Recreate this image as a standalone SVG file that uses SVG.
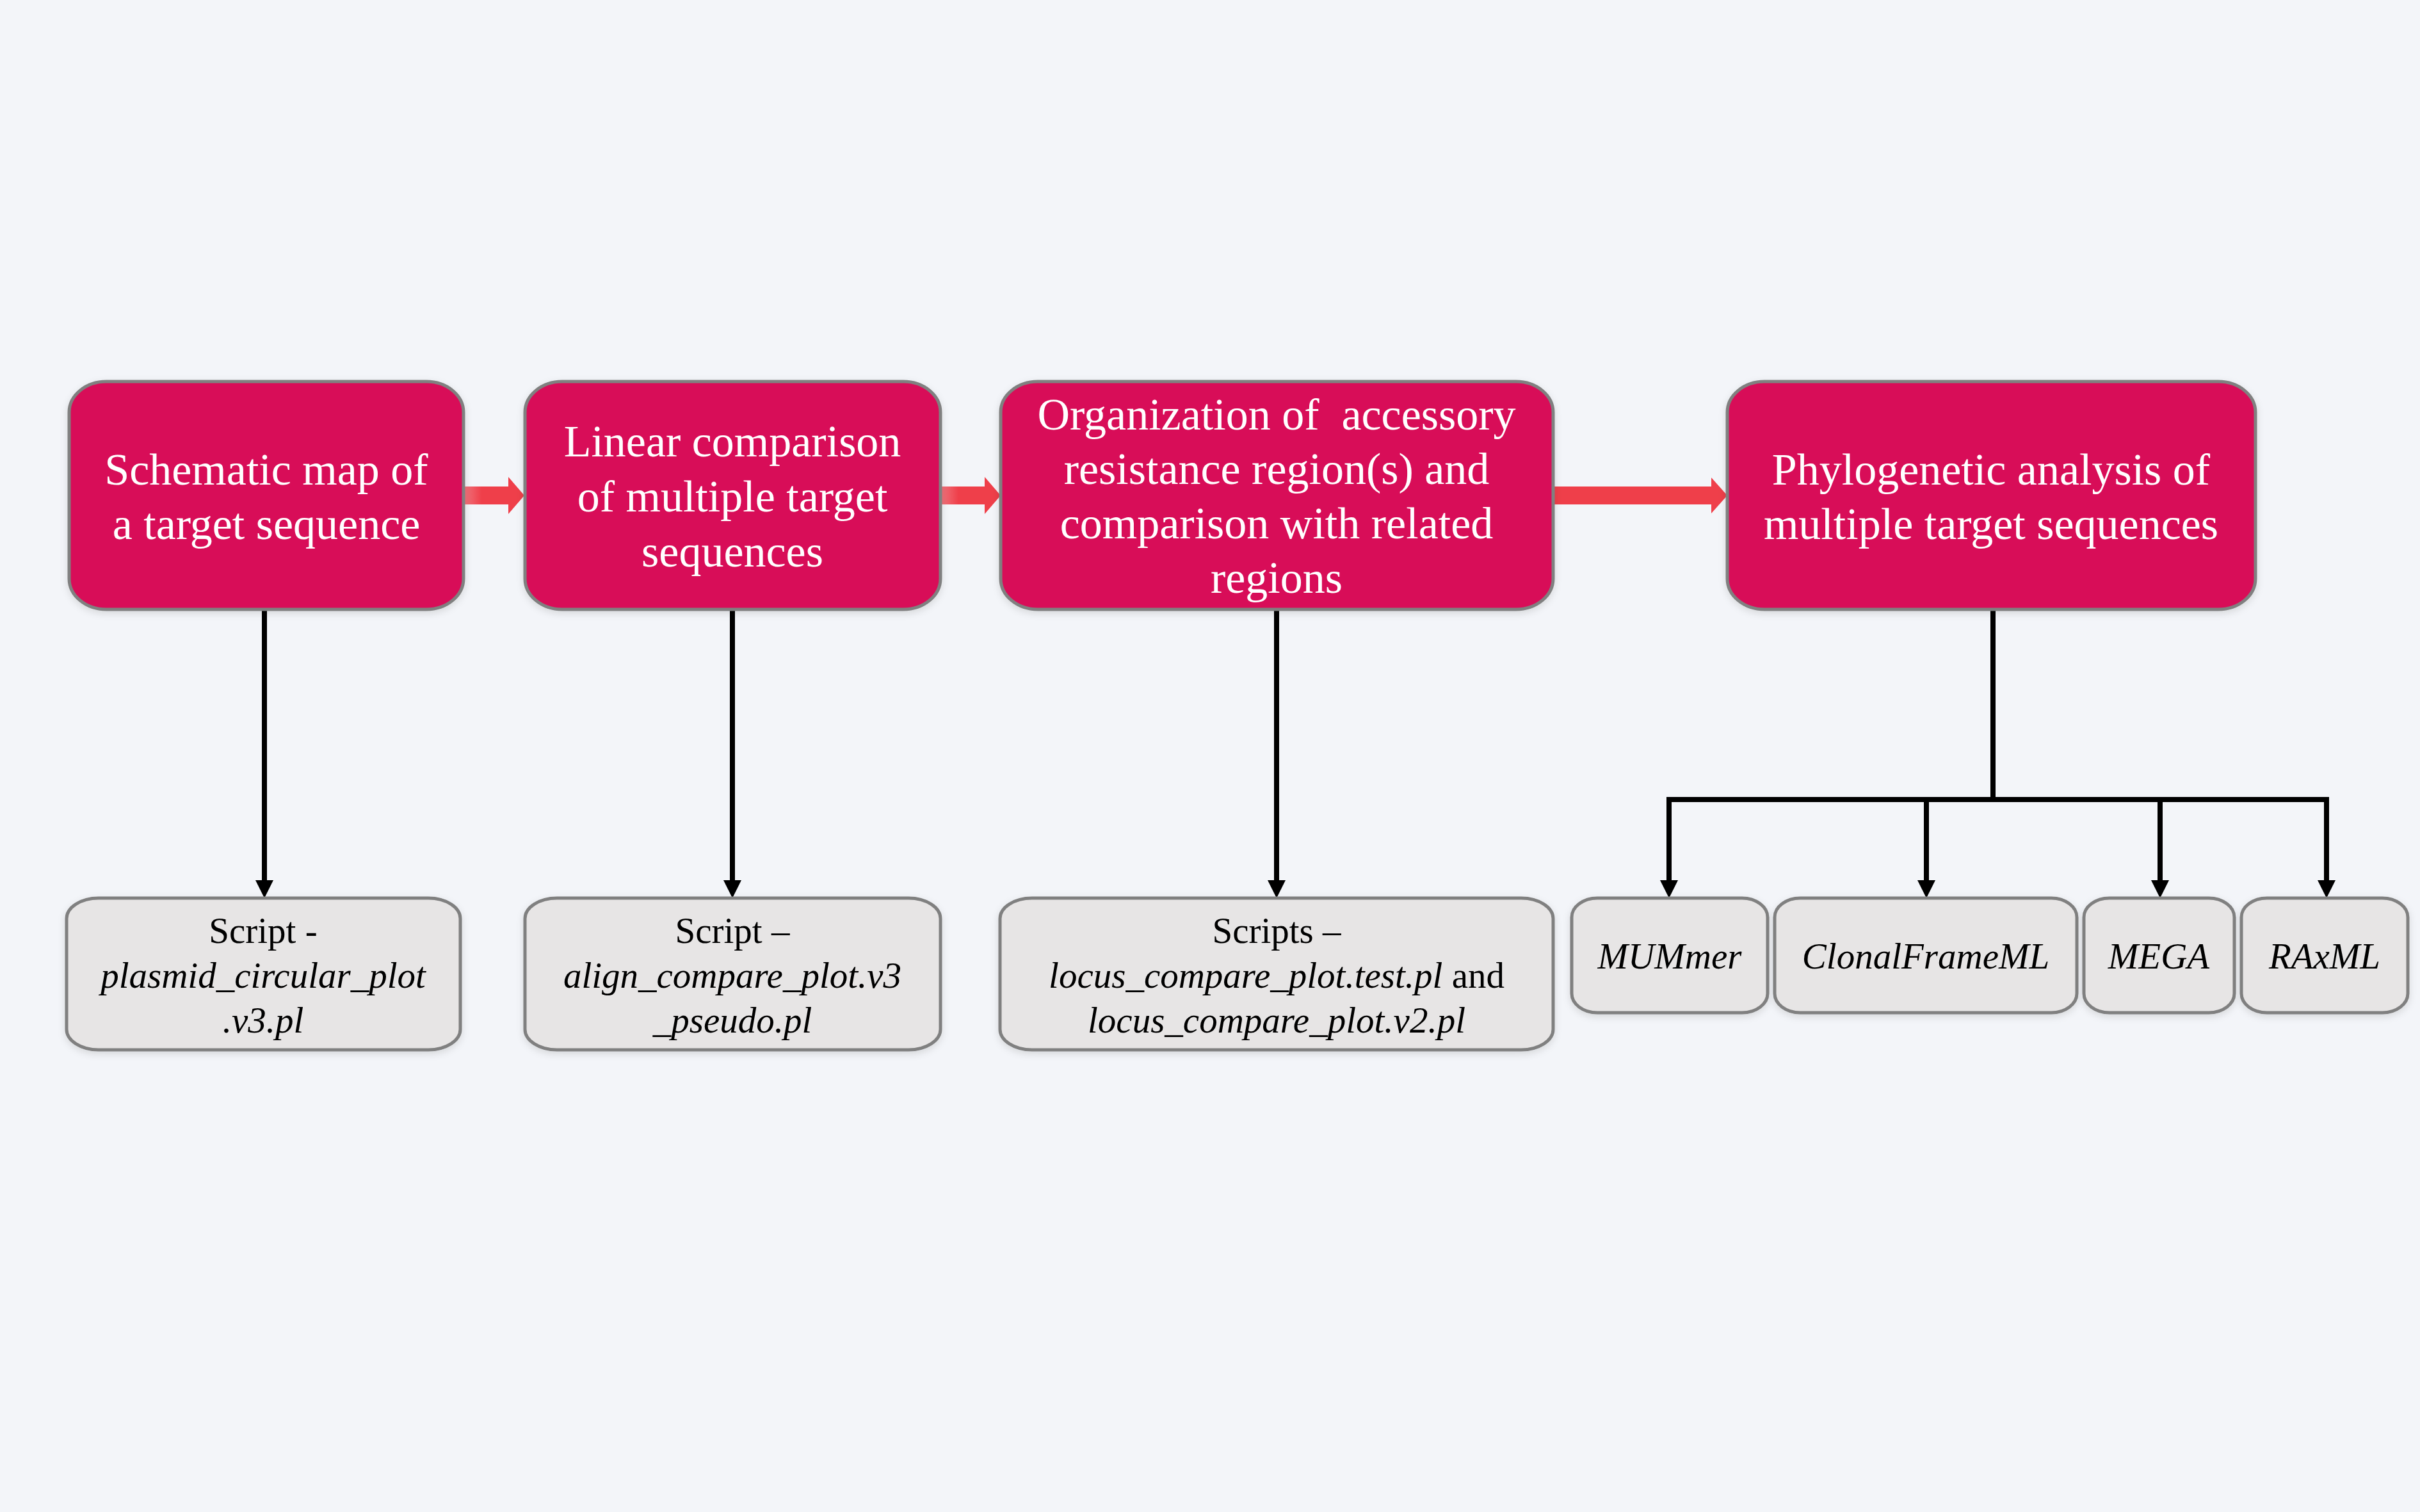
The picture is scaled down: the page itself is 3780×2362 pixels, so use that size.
<svg xmlns="http://www.w3.org/2000/svg" width="3780" height="2362" viewBox="0 0 3780 2362">
<defs>
<style>
.main{fill:#D81159;stroke:#808080;stroke-width:5}
.sub{fill:#E7E5E5;stroke:#808080;stroke-width:5}
.mt{font-family:"Liberation Serif","Times New Roman",serif;font-size:70px;fill:#FFFFFF;text-anchor:middle}
.st{font-family:"Liberation Serif","Times New Roman",serif;font-size:57px;fill:#000000;text-anchor:middle}
.it{font-style:italic}
.conn{fill:none;stroke:#000000;stroke-width:8}
.red{fill:#EF3F4A}
</style>
<marker id="ahd" markerUnits="userSpaceOnUse" markerWidth="28" markerHeight="28" viewBox="0 0 28 28" refX="0" refY="14" orient="auto">
<path d="M0,0 L28,14 L0,28 Z" fill="#000000"/>
</marker>
<filter id="sh" x="-10%" y="-10%" width="120%" height="130%">
<feDropShadow dx="0" dy="4" stdDeviation="6" flood-color="#000000" flood-opacity="0.12"/>
</filter>
<linearGradient id="fade" x1="0" y1="0" x2="1" y2="0">
<stop offset="0" stop-color="#EF3F4A" stop-opacity="0.7"/>
<stop offset="0.3" stop-color="#EF3F4A" stop-opacity="1"/>
<stop offset="1" stop-color="#EF3F4A" stop-opacity="1"/>
</linearGradient>
</defs>
<rect x="0" y="0" width="3780" height="2362" fill="#F3F5F9"/>

<g id="connectors">
<path class="conn" d="M413,952 V1375" marker-end="url(#ahd)"/>
<path class="conn" d="M1144,952 V1375" marker-end="url(#ahd)"/>
<path class="conn" d="M1994,952 V1375" marker-end="url(#ahd)"/>
<path class="conn" d="M3113,952 V1249"/>
<path class="conn" d="M2603,1249 H3638"/>
<path class="conn" d="M2607,1249 V1375" marker-end="url(#ahd)"/>
<path class="conn" d="M3009,1249 V1375" marker-end="url(#ahd)"/>
<path class="conn" d="M3374,1249 V1375" marker-end="url(#ahd)"/>
<path class="conn" d="M3634,1249 V1375" marker-end="url(#ahd)"/>
<path fill="url(#fade)" d="M724,760 H794 V745 L819,774 L794,803 V788 H724 Z"/>
<path fill="url(#fade)" d="M1469,760 H1538 V745 L1563,774 L1538,803 V788 H1469 Z"/>
<path class="red" d="M2426,760 H2673 V746 L2698,774 L2673,802 V788 H2426 Z"/>
</g>

<g id="n1" filter="url(#sh)">
<rect class="main" x="108" y="596" width="616" height="356" rx="58" ry="48"/>
<text class="mt" x="416" y="757">Schematic map of</text>
<text class="mt" x="416" y="842">a target sequence</text>
</g>
<g id="n2" filter="url(#sh)">
<rect class="main" x="820" y="596" width="649" height="356" rx="58" ry="48"/>
<text class="mt" x="1144" y="713">Linear comparison</text>
<text class="mt" x="1144" y="799">of multiple target</text>
<text class="mt" x="1144" y="885">sequences</text>
</g>
<g id="n3" filter="url(#sh)">
<rect class="main" x="1563" y="596" width="863" height="356" rx="58" ry="48"/>
<text class="mt" x="1994" y="671" style="white-space:pre">Organization of  accessory</text>
<text class="mt" x="1994" y="756">resistance region(s) and</text>
<text class="mt" x="1994" y="841">comparison with related</text>
<text class="mt" x="1994" y="926">regions</text>
</g>
<g id="n4" filter="url(#sh)">
<rect class="main" x="2698" y="596" width="825" height="356" rx="58" ry="48"/>
<text class="mt" x="3110" y="757">Phylogenetic analysis of</text>
<text class="mt" x="3110" y="842">multiple target sequences</text>
</g>

<g id="s1" filter="url(#sh)">
<rect class="sub" x="104" y="1403" width="615" height="237" rx="50" ry="32"/>
<text class="st" x="411" y="1473">Script -</text>
<text class="st it" x="411" y="1543">plasmid_circular_plot</text>
<text class="st it" x="411" y="1613">.v3.pl</text>
</g>
<g id="s2" filter="url(#sh)">
<rect class="sub" x="820" y="1403" width="649" height="237" rx="50" ry="32"/>
<text class="st" x="1144" y="1473">Script –</text>
<text class="st it" x="1144" y="1543">align_compare_plot.v3</text>
<text class="st it" x="1144" y="1613">_pseudo.pl</text>
</g>
<g id="s3" filter="url(#sh)">
<rect class="sub" x="1562" y="1403" width="864" height="237" rx="50" ry="32"/>
<text class="st" x="1994" y="1473">Scripts –</text>
<text class="st" x="1994" y="1543"><tspan class="it">locus_compare_plot.test.pl</tspan> and</text>
<text class="st it" x="1994" y="1613">locus_compare_plot.v2.pl</text>
</g>
<g id="t1" filter="url(#sh)">
<rect class="sub" x="2455" y="1403" width="306" height="179" rx="40" ry="30"/>
<text class="st it" x="2608" y="1513">MUMmer</text>
</g>
<g id="t2" filter="url(#sh)">
<rect class="sub" x="2772" y="1403" width="472" height="179" rx="40" ry="30"/>
<text class="st it" x="3008" y="1513">ClonalFrameML</text>
</g>
<g id="t3" filter="url(#sh)">
<rect class="sub" x="3255" y="1403" width="235" height="179" rx="40" ry="30"/>
<text class="st it" x="3372" y="1513">MEGA</text>
</g>
<g id="t4" filter="url(#sh)">
<rect class="sub" x="3501" y="1403" width="260" height="179" rx="40" ry="30"/>
<text class="st it" x="3631" y="1513">RAxML</text>
</g>
</svg>
